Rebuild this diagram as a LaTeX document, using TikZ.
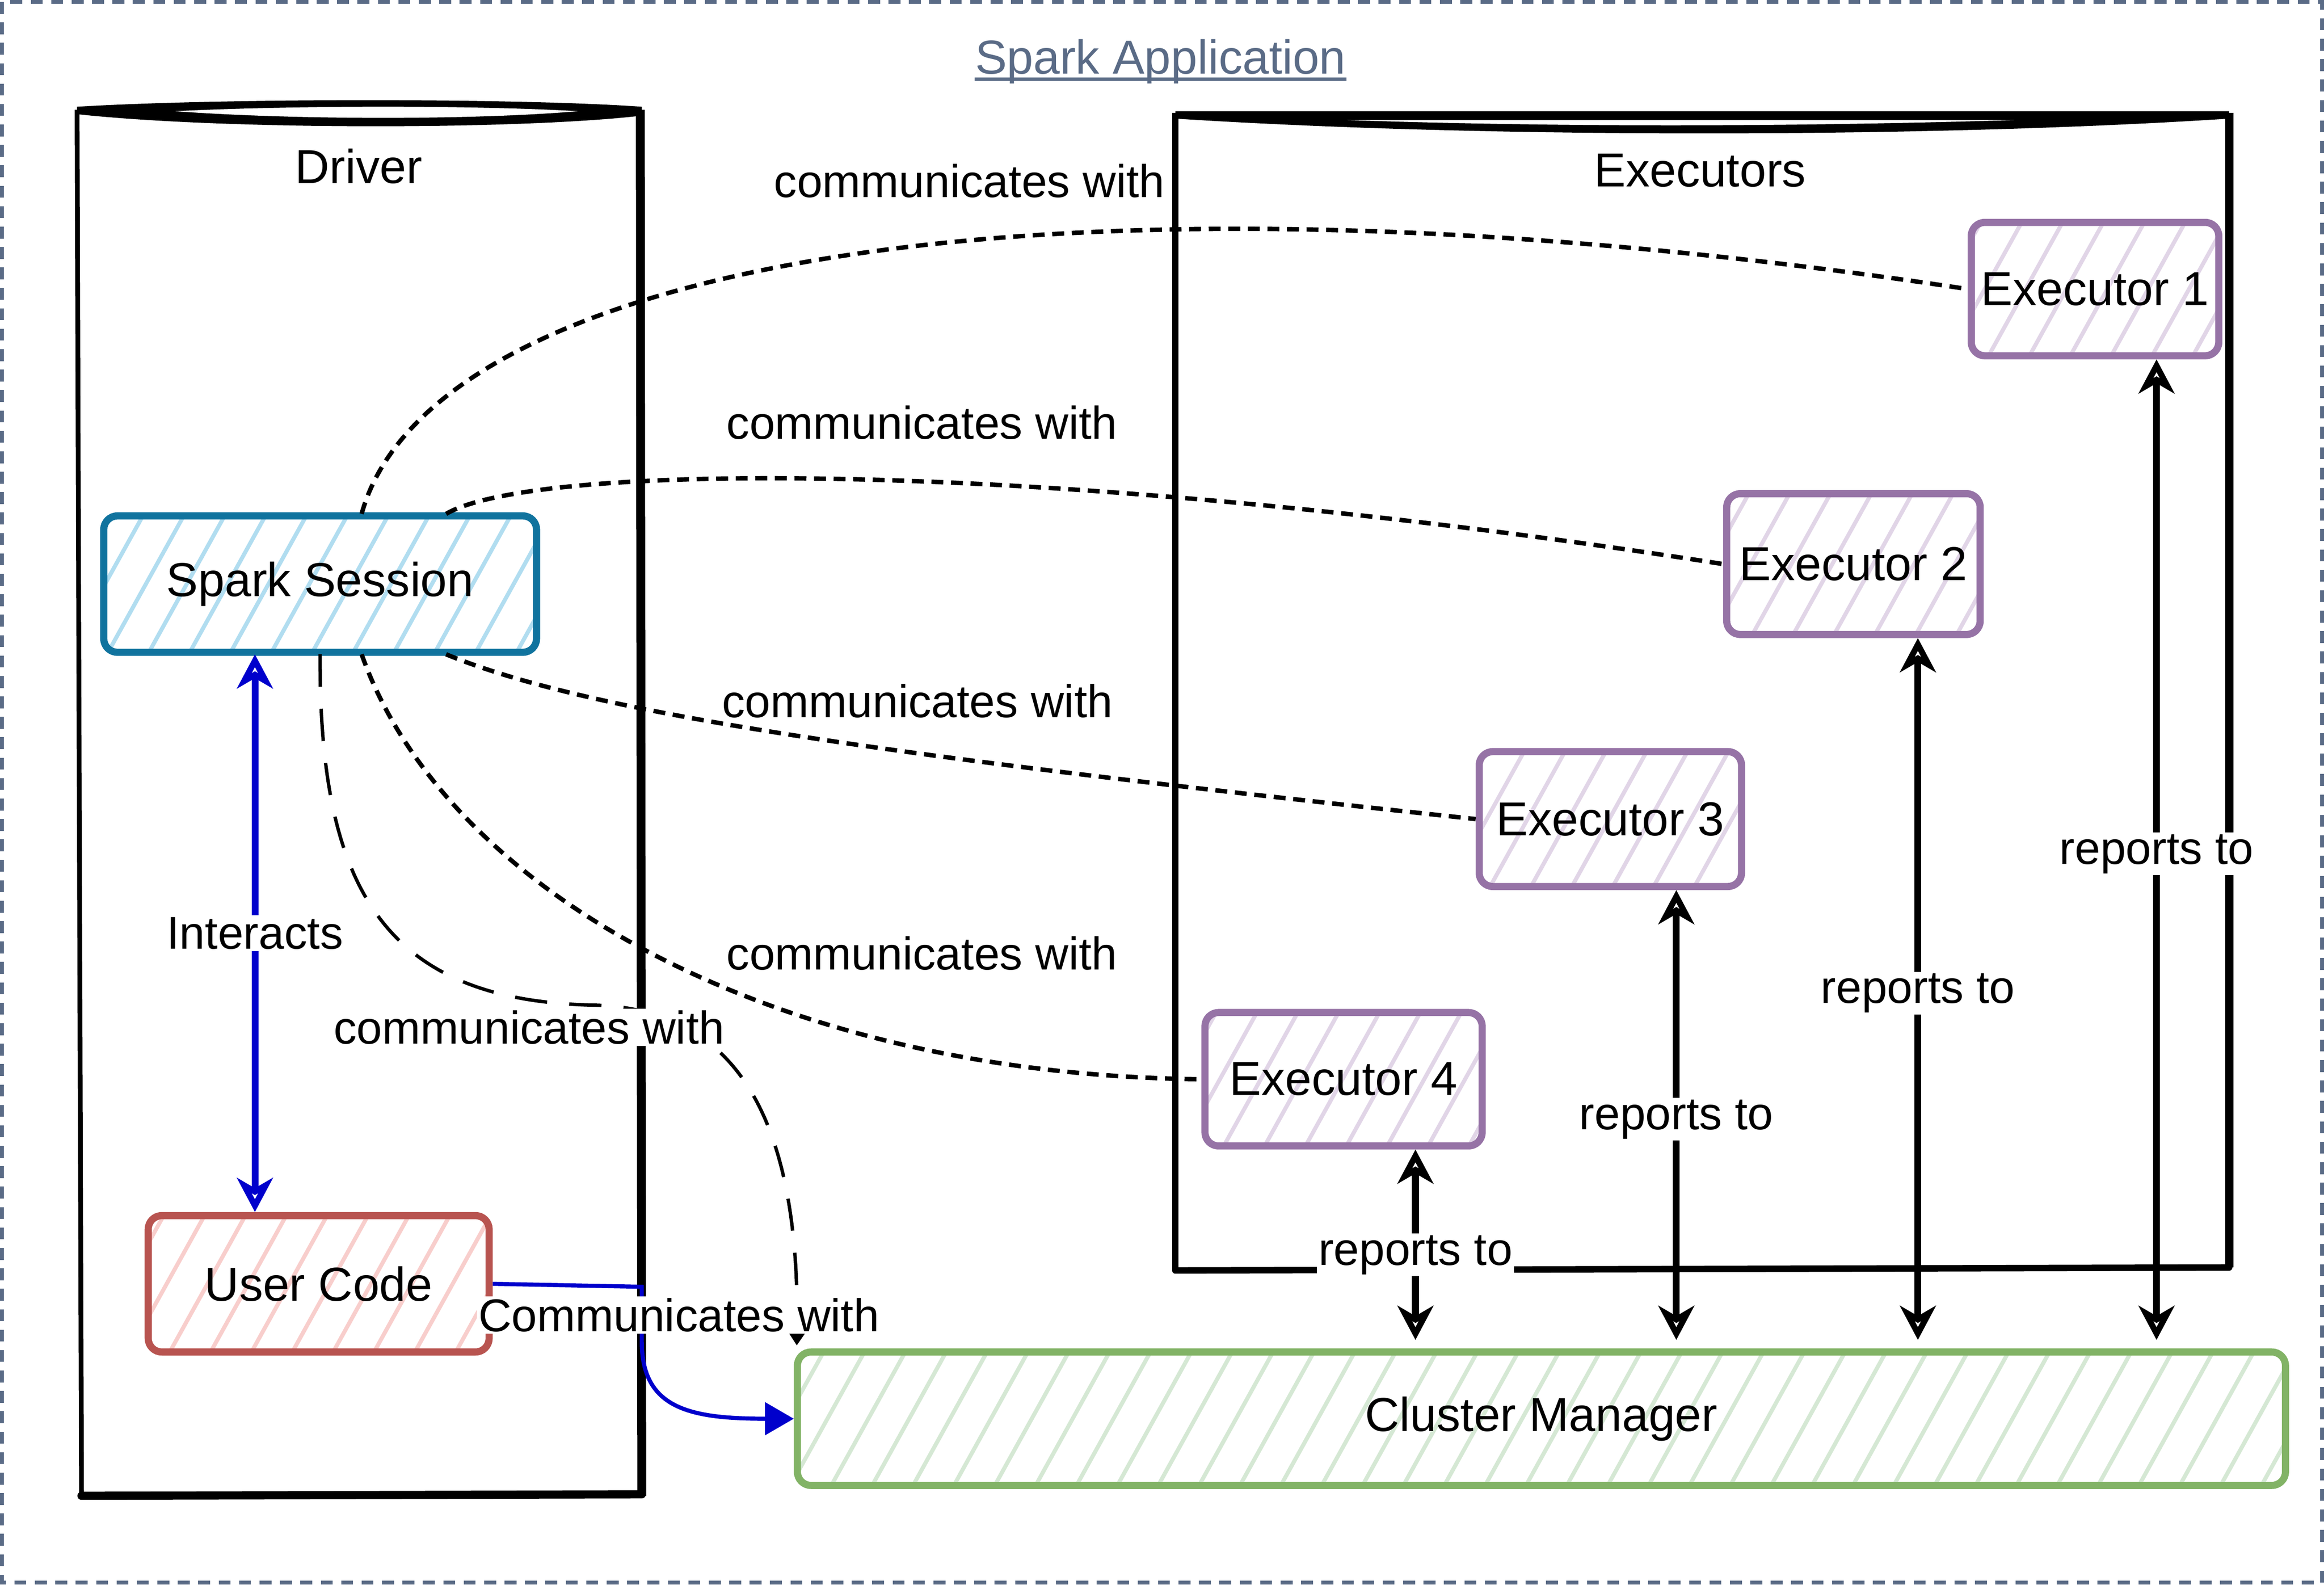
\documentclass[tikz,border=0pt]{standalone}
\usepackage{fontspec}
\setmainfont{Liberation Sans}
\usetikzlibrary{arrows.meta,patterns.meta}
\definecolor{slate}{HTML}{5A6B86}
\definecolor{ssline}{HTML}{10739E}
\definecolor{sshatch}{HTML}{B1DDF0}
\definecolor{ucline}{HTML}{B85450}
\definecolor{uchatch}{HTML}{F8CECC}
\definecolor{exline}{HTML}{9673A6}
\definecolor{exhatch}{HTML}{E1D5E7}
\definecolor{cmline}{HTML}{82B366}
\definecolor{cmhatch}{HTML}{D5E8D4}
\definecolor{blueedge}{HTML}{0000CC}
\def\dpx{0.030612cm}
\newcommand{\nodefont}{\fontsize{28}{33}\selectfont}
\newcommand{\labfont}{\fontsize{27}{32}\selectfont}
\tikzset{
  openhd/.tip={Stealth[open,length=20pt,width=21pt,inset=6pt]},
  sk/.style={draw, line width=4.2pt, rounded corners=8pt, inner sep=0pt, font=\nodefont, text=black},
  hatch/.style={pattern={Lines[angle=61,distance=21pt,line width=2.4pt]}, pattern color=#1},
  lab/.style={font=\labfont, text=black, inner sep=1pt},
  labw/.style={font=\labfont, text=black, fill=white, inner sep=1pt},
  dotl/.style={line width=2.6pt, dash pattern=on 7pt off 4.5pt, black},
  longdash/.style={line width=2pt, dash pattern=on 19pt off 13pt, black},
  rep/.style={line width=4pt, black, arrows={openhd-openhd}, shorten >=5pt},
  blueint/.style={line width=4pt, blueedge, arrows={openhd-openhd}},
  bluecm/.style={line width=2.4pt, blueedge, -{Triangle[length=17pt,width=19pt]}},
  ttl/.style={font=\nodefont, text=black},
}
\begin{document}
\begin{tikzpicture}[x=0.030612cm, y=-0.030612cm]
\useasboundingbox (0,0) rectangle (1568,1068.9);
% outer frame
\draw[slate, line width=2.2pt, dash pattern=on 7pt off 5pt] (1.3,1.3) rectangle (1566.7,1067.6);
\node[font=\nodefont, text=slate, inner sep=0pt] (title) at (783,41.5) {Spark Application};
\draw[slate, line width=2pt] ([yshift=-3.7*\dpx]title.base west) -- ([yshift=-3.7*\dpx]title.base east);

% Driver container
\draw[line width=2.8pt] (52,74) -- (55,1009);
\draw[line width=5.2pt] (432,74) -- (433,1009);
\draw[line width=4.8pt, line cap=round] (55,1009) -- (433,1008);
\fill (52,72) .. controls (150,66.1) and (350,66.1) .. (433,72) -- (433,78)
  .. controls (350,87.7) and (150,87.7) .. (52,77) -- cycle;
\fill[white] (118,75) .. controls (200,71) and (320,71) .. (390,75)
  .. controls (320,81) and (200,81) .. (118,75) -- cycle;
\node[ttl] (driverlab) at (242,112) {Driver};

% Executors container
\draw[line width=3.8pt] (793,76) -- (793,857);
\draw[line width=4.8pt] (1504,76) -- (1504,855);
\draw[line width=3.8pt, line cap=round] (793,857) -- (1504,855);
\fill (793,75) -- (1504,75) -- (1504,80) .. controls (1300,93.3) and (1000,93.3) .. (793,80) -- cycle;
\fill[white] (909,81) -- (1359,81) .. controls (1200,85.7) and (1050,85.7) .. (909,81) -- cycle;
\node[ttl] (execlab) at (1147,115) {Executors};

% nodes
\node[sk, hatch=sshatch, draw=ssline, minimum width=292*\dpx, minimum height=92*\dpx] (ss) at (216,394) {Spark Session};
\node[sk, hatch=uchatch, draw=ucline, minimum width=230*\dpx, minimum height=92*\dpx] (uc) at (215,866) {User Code};
\node[sk, hatch=exhatch, draw=exline, minimum width=167*\dpx, minimum height=90*\dpx] (ex1) at (1413.5,195) {Executor 1};
\node[sk, hatch=exhatch, draw=exline, minimum width=171*\dpx, minimum height=95*\dpx] (ex2) at (1250.5,380.5) {Executor 2};
\node[sk, hatch=exhatch, draw=exline, minimum width=177*\dpx, minimum height=91*\dpx] (ex3) at (1086.5,552.5) {Executor 3};
\node[sk, hatch=exhatch, draw=exline, minimum width=187*\dpx, minimum height=90*\dpx] (ex4) at (906.5,728) {Executor 4};
\node[sk, hatch=cmhatch, draw=cmline, minimum width=1004*\dpx, minimum height=90*\dpx] (cm) at (1040,957) {Cluster Manager};

% Spark Session <-> executors
\draw[dotl] ([xshift=28*\dpx]ss.north) .. controls (290,180) and (700,100) .. (ex1.west);
\draw[dotl] ([xshift=85*\dpx]ss.north) .. controls (360,312) and (700,308) .. (ex2.west);
\draw[dotl] ([xshift=85*\dpx]ss.south) .. controls (400,482) and (600,510) .. (ex3.west);
\draw[dotl] ([xshift=28*\dpx]ss.south) .. controls (300,600) and (520,725) .. (ex4.west);
\node[lab] (l1) at (654,122) {communicates with};
\node[lab] (l2) at (622,285) {communicates with};
\node[lab] (l3) at (619,473) {communicates with};
\node[lab] (l4) at (622,643) {communicates with};

% Spark Session -> Cluster Manager
\coordinate (bend) at (400,678);
\draw[longdash, -{Triangle[length=8pt,width=10pt]}] (ss.south) .. controls (215,600) and (260,675) .. (bend)
  .. controls (500,680) and (540,760) .. ([xshift=2*\dpx, yshift=2*\dpx]cm.north west);
\node[labw] (l5) at (357,693) {communicates with};

% Interacts
\draw[blueint] ([xshift=-44*\dpx]ss.south) -- ([xshift=-43*\dpx]uc.north)
  node[labw, midway] (l6) {Interacts};

% User Code -> Cluster Manager
\coordinate (ucc) at (433,868);
\coordinate (ucd) at (433,905);
\draw[bluecm] (uc.east) -- (ucc) -- (ucd) .. controls (433,950) and (465,957) .. (cm.west);
\node[labw] (l7) at (458,887) {Communicates with};

% reports to
\draw[rep] ([xshift=48.5*\dpx]ex4.south) -- ([xshift=48.5*\dpx]ex4.south |- cm.north)
  node[labw, pos=0.53] (r4) {reports to};
\draw[rep] ([xshift=44.5*\dpx]ex3.south) -- ([xshift=44.5*\dpx]ex3.south |- cm.north)
  node[labw, midway] (r3) {reports to};
\draw[rep] ([xshift=43.5*\dpx]ex2.south) -- ([xshift=43.5*\dpx]ex2.south |- cm.north)
  node[labw, midway] (r2) {reports to};
\draw[rep] ([xshift=41.5*\dpx]ex1.south) -- ([xshift=41.5*\dpx]ex1.south |- cm.north)
  node[labw, midway] (r1) {reports to};
\end{tikzpicture}
\end{document}
